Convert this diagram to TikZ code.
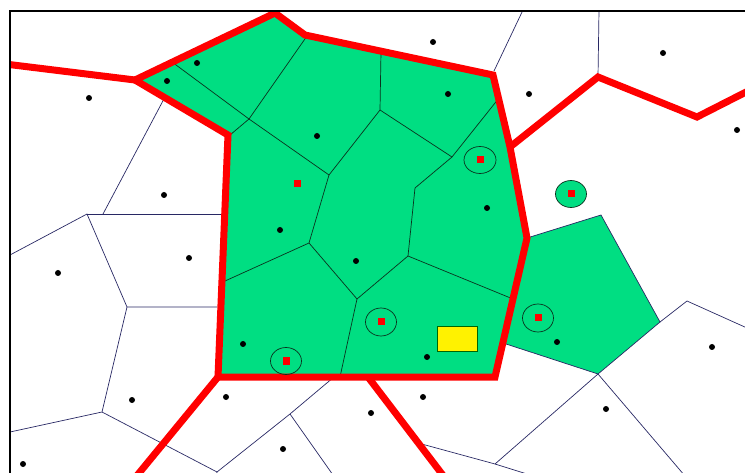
\documentclass[tikz,border=0pt]{standalone}
\definecolor{cellgreen}{RGB}{0,222,130}
\definecolor{edgeblue}{RGB}{40,40,100}
\definecolor{inedge}{RGB}{10,50,30}
\begin{document}
\begin{tikzpicture}[x=1pt,y=-1pt,
  inner/.style={draw=inedge, line width=0.7pt},
  outer/.style={draw=edgeblue, line width=0.7pt},
  border/.style={draw=red, line width=7pt, line join=miter},
  site/.style={circle, fill=black, inner sep=0pt, minimum size=6pt},
  query/.style={rectangle, fill=red, inner sep=0pt, minimum size=7pt},
  ring/.style={draw=inedge, line width=0.7pt},
]
\useasboundingbox (0,0) rectangle (745,473);
% named vertices
\coordinate (T1) at (275,13);
\coordinate (T2) at (305,35);
\coordinate (T3) at (493,75);
\coordinate (R1) at (510,147);
\coordinate (R2) at (527,238);
\coordinate (R3) at (495,377);
\coordinate (L3) at (218,377);
\coordinate (L2) at (228,135);
\coordinate (L1) at (135,80);
\coordinate (B1) at (368,377);
\coordinate (B2) at (445,478);
\coordinate (B3) at (135,478);
\coordinate (W1) at (5,64);
\coordinate (P1) at (598,77);
\coordinate (P2) at (697,117);
\coordinate (P3) at (752,89);
\coordinate (G2) at (601,215);
\coordinate (G3) at (660,322);
\coordinate (G4) at (598,374);
\coordinate (G5) at (503,343);
\coordinate (V1) at (249,119);
\coordinate (V2) at (329,175);
\coordinate (V3) at (380,110);
\coordinate (V4) at (452,157);
\coordinate (V5) at (415,188);
\coordinate (V6) at (408,256);
\coordinate (V7) at (357,299);
\coordinate (V8) at (309,243);
\coordinate (A) at (87,214);
\coordinate (C) at (127,307);
\coordinate (D) at (102,412);
\coordinate (E) at (290,414);
\coordinate (F) at (217,472);
\coordinate (H) at (495,464);
\coordinate (K) at (687,301);
\begin{scope}
\clip (10,11) rectangle (745,473);
% green regions
\fill[cellgreen] (T1) -- (T2) -- (T3) -- (R1) -- (R2) -- (R3) -- (L3) -- (L2) -- (L1) -- cycle;
\fill[cellgreen] (R2) -- (G2) -- (G3) -- (G4) -- (G5) -- cycle;
% inner edges
\draw[inner] (172,62) -- (V1) -- (307,36);
\draw[inner] (V1) -- (230,135);
\draw[inner] (V1) -- (V2) -- (V3) -- (381,52);
\draw[inner] (V3) -- (V4) -- (499,98);
\draw[inner] (V4) -- (V5) -- (V6) -- (513,299);
\draw[inner] (V6) -- (V7) -- (340,377);
\draw[inner] (V2) -- (V8) -- (225,281);
\draw[inner] (V8) -- (V7);
% outer edges
\draw[outer] (R2) -- (G2) -- (G3) -- (G4) -- (G5);
\draw[outer] (165,97) -- (103,214);
\draw[outer] (A) -- (221,214);
\draw[outer] (10,255) -- (A) -- (C) -- (217,307);
\draw[outer] (C) -- (D) -- (10,432);
\draw[outer] (D) -- (F) -- (E) -- (334,377);
\draw[outer] (E) -- (333,475);
\draw[outer] (F) -- (216,476);
\draw[outer] (418,443) -- (H) -- (G4) -- (685,476);
\draw[outer] (H) -- (527,474);
\draw[outer] (G3) -- (K) -- (747,328);
\draw[outer] (494,71) -- (523,10);
\draw[outer] (599,10) -- (P1);
% red borders
\draw[border] (T1) -- (T2) -- (T3) -- (R1) -- (R2) -- (R3) -- (L3) -- (L2) -- (L1) -- cycle;
\draw[border] (W1) -- (L1);
\draw[border] (L3) -- (B3);
\draw[border] (B1) -- (B2);
\draw[border] (R1) -- (P1) -- (P2) -- (P3);
\end{scope}
% rings and query points
\draw[ring, fill=cellgreen] (571,194) ellipse [x radius=15.5, y radius=13.5];
\draw[ring] (480,160) ellipse [x radius=16, y radius=13.5];
\draw[ring] (381,322) ellipse [x radius=15.5, y radius=14];
\draw[ring] (538,318) ellipse [x radius=15.5, y radius=14];
\draw[ring] (286,361) ellipse [x radius=15.5, y radius=13.5];
\node[query] (q1) at (297,184) {};
\node[query] (q2) at (480,160) {};
\node[query] (q3) at (571,194) {};
\node[query] (q4) at (381,322) {};
\node[query] (q5) at (538,318) {};
\node[query] (q6) at (286,361) {};
% yellow box
\node[draw=black!60!green, fill=yellow, line width=0.8pt, minimum width=40pt, minimum height=25pt, inner sep=0pt] (box) at (457,338.5) {};
% sites
\foreach \p [count=\i] in {(197,63),(167,81),(89,98),(317,136),(164,195),(280,230),(433,42),(663,53),(448,94),(529,94),(737,130),(487,208),(189,258),(58,273),(356,261),(243,344),(226,397),(132,400),(371,413),(283,449),(23,464),(427,357),(557,342),(712,347),(423,397),(606,409)}
  \node[site] (s\i) at \p {};
% frame
\draw[line width=1.3pt] (10,473) -- (10,11) -- (745,11);
\end{tikzpicture}
\end{document}
